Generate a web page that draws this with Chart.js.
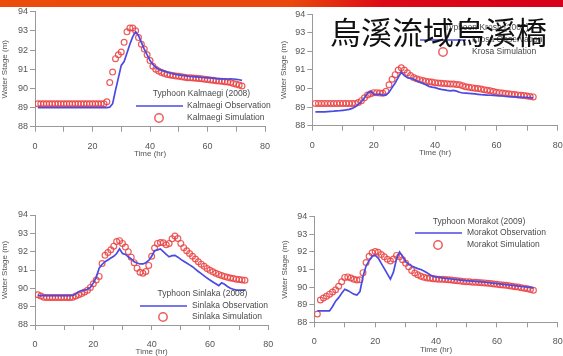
<!DOCTYPE html>
<html>
<head>
<meta charset="utf-8">
<script src="https://cdn.jsdelivr.net/npm/chart.js"></script>
<style>
  body { margin: 0; background: #fff; width: 563px; height: 356px; overflow: hidden; position: relative; }
  .topbar { position: absolute; left: 0; top: 0; width: 563px; height: 7px;
    background: linear-gradient(100deg, #eb4b0b 0%, #e9470c 52%, #dc0a16 68%, #d6001a 100%); }
  canvas { position: absolute; left: 0; top: 0; }
  .bigtitle { position: absolute; left: 330px; top: 15px; font-family: "Noto Sans CJK TC", sans-serif;
    font-size: 31px; line-height: 1; color: #111; white-space: nowrap; z-index: 5; }
</style>
</head>
<body>
<div class="topbar"></div>
<canvas id="c1" width="563" height="356"></canvas>
<canvas id="c2" width="563" height="356"></canvas>
<canvas id="c3" width="563" height="356"></canvas>
<canvas id="c4" width="563" height="356"></canvas>
<div class="bigtitle">烏溪流域烏溪橋</div>

<script>
// hours 1..72
const hours = [1,2,3,4,5,6,7,8,9,10,11,12,13,14,15,16,17,18,19,20,21,22,23,24,25,26,27,28,29,30,
  31,32,33,34,35,36,37,38,39,40,41,42,43,44,45,46,47,48,49,50,51,52,53,54,55,56,57,58,59,60,
  61,62,63,64,65,66,67,68,69,70,71,72];

const typhoons = ["Kalmaegi", "Krosa", "Sinlaka", "Morakot"];
const years = [2008, 2007, 2008, 2009];
const xTickLabels = [0, 20, 40, 60, 80];
const yTickLabels = [88, 89, 90, 91, 92, 93, 94];

// water stage (m)
const kalmaegiObs = [89.0,89.0,89.0,89.0,89.0,89.0,89.0,89.0,89.0,89.0,89.0,89.0,89.0,89.0,89.0,
  89.0,89.0,89.0,89.0,89.0,89.0,89.0,89.0,89.0,89.0,
  89.02,89.2,89.9,90.55,91.2,91.4,91.85,92.3,92.7,92.95,
  92.75,92.4,92.05,91.75,91.45,91.25,91.1,91.0,90.95,90.9,
  90.85,90.8,90.76,90.73,90.7,90.68,90.66,90.64,90.62,90.61,
  90.6,90.59,90.57,90.56,90.55,90.55,90.53,90.51,90.5,90.5,
  90.5,90.49,90.5,90.49,90.47,90.45,90.42];
const kalmaegiSim = [89.2,89.2,89.2,89.2,89.2,89.2,89.2,89.2,89.2,89.2,89.2,89.2,
  89.2,89.2,89.2,89.2,89.2,89.2,89.2,89.2,89.2,89.2,89.2,89.2,
  89.3,90.3,90.85,91.55,91.75,91.9,92.4,92.95,93.15,93.15,93.0,
  92.65,92.3,92.05,91.75,91.45,91.15,91.0,90.9,90.83,90.77,
  90.73,90.7,90.67,90.65,90.63,90.6,90.58,90.56,90.55,90.54,
  90.53,90.52,90.5,90.48,90.46,90.44,90.42,90.4,90.38,90.37,
  90.35,90.33,90.3,90.26,90.22,90.17,90.12];

const krosaObs = [88.75,88.75,88.75,88.75,88.76,88.77,88.78,88.8,88.81,88.83,
  88.85,88.88,88.93,89.02,89.15,89.3,89.5,89.75,89.85,89.7,
  89.68,89.7,89.65,89.65,89.8,90.05,90.3,90.6,90.88,90.7,
  90.58,90.55,90.5,90.42,90.35,90.28,90.2,90.12,90.08,90.05,
  90.0,89.96,89.93,89.9,89.88,89.9,89.86,89.8,89.76,89.75,
  89.74,89.73,89.71,89.69,89.67,89.66,89.65,89.64,89.63,89.62,
  89.61,89.6,89.58,89.57,89.56,89.55,89.54,89.53,89.53,89.52,
  89.51,89.5];
const krosaSim = [89.2,89.2,89.2,89.2,89.2,89.2,89.2,89.2,89.2,89.2,
  89.2,89.2,89.2,89.2,89.25,89.35,89.5,89.65,89.72,89.78,
  89.78,89.76,89.75,89.85,90.2,90.5,90.75,91.0,91.12,91.0,
  90.85,90.7,90.6,90.53,90.48,90.43,90.4,90.37,90.35,90.32,
  90.3,90.28,90.27,90.26,90.25,90.24,90.22,90.2,90.15,90.1,
  90.07,90.05,90.02,90.0,89.97,89.94,89.91,89.88,89.84,89.8,
  89.78,89.76,89.74,89.72,89.7,89.68,89.66,89.64,89.62,89.6,
  89.57,89.55];

const sinlakaObs = [89.62,89.6,89.6,89.6,89.6,89.6,89.6,89.6,89.6,89.6,
  89.6,89.6,89.62,89.7,89.82,89.88,89.9,89.95,90.05,90.3,
  90.6,91.1,91.3,91.45,91.55,91.65,91.75,91.9,92.15,91.9,
  91.85,91.72,91.6,91.45,91.38,91.33,91.33,91.4,91.52,91.75,
  92.05,92.1,92.15,92.0,91.85,91.72,91.78,91.8,91.7,91.58,
  91.48,91.38,91.28,91.18,91.05,90.92,90.8,90.68,90.56,90.45,
  90.35,90.25,90.15,90.3,90.22,90.1,90.0,89.95,89.9,89.9,
  89.9,89.9];
const sinlakaSim = [89.65,89.58,89.52,89.5,89.5,89.5,89.5,89.5,89.5,89.5,
  89.5,89.5,89.52,89.58,89.65,89.72,89.8,89.9,90.05,90.25,
  90.45,90.65,91.35,91.8,91.95,92.1,92.3,92.55,92.6,92.45,
  92.25,92.0,91.7,91.4,91.1,90.88,90.82,90.92,91.25,91.75,
  92.2,92.45,92.5,92.48,92.38,92.45,92.7,92.85,92.72,92.45,
  92.22,92.05,91.9,91.75,91.6,91.45,91.32,91.2,91.08,90.98,
  90.9,90.82,90.76,90.7,90.65,90.6,90.56,90.53,90.5,90.48,
  90.46,90.44];

const morakotObs = [88.65,88.65,88.65,88.65,88.65,88.9,89.2,89.4,89.65,89.88,
  89.8,89.7,89.6,89.55,89.75,90.6,91.2,91.5,91.75,91.8,
  91.65,91.35,91.05,90.75,90.45,90.85,91.6,92.0,91.75,91.45,
  91.3,91.2,91.12,91.05,91.0,90.92,90.82,90.7,90.62,90.58,
  90.55,90.52,90.5,90.48,90.46,90.44,90.42,90.4,90.38,90.36,
  90.35,90.34,90.32,90.31,90.3,90.28,90.26,90.24,90.22,90.2,
  90.18,90.16,90.14,90.12,90.1,90.08,90.06,90.04,90.02,90.0,
  89.98,89.96];
const morakotSim = [88.47,89.27,89.38,89.48,89.6,89.72,89.85,90.05,90.3,90.55,
  90.58,90.52,90.45,90.4,90.42,90.82,91.4,91.75,91.95,92.02,
  91.98,91.85,91.72,91.58,91.48,91.6,91.8,91.72,91.55,91.35,
  91.15,90.95,90.8,90.7,90.62,90.56,90.52,90.5,90.48,90.46,
  90.45,90.44,90.43,90.42,90.4,90.38,90.36,90.34,90.32,90.31,
  90.3,90.28,90.27,90.26,90.25,90.24,90.22,90.2,90.18,90.16,
  90.14,90.12,90.1,90.08,90.05,90.02,90.0,89.97,89.94,89.9,
  89.86,89.82];

const BLUE = "#4a4ae4";
const RED = "rgba(234, 64, 64, 0.85)";
const TEXT = "#555";
const FONT = 'Arial, "Liberation Sans", sans-serif';

// legend drawn inside the plot, like the original figure
const insetLegend = {
  id: "insetLegend",
  afterDatasetsDraw(chart, args, o) {
    const ctx = chart.ctx;
    const ds = chart.data.datasets;
    ctx.save();
    ctx.font = "8.5px " + FONT;
    ctx.fillStyle = "#4a4a4a";
    ctx.textBaseline = "middle";
    ctx.textAlign = "center";
    ctx.fillText(o.title, o.titleX, o.titleY);
    ctx.textAlign = "left";
    ctx.fillText(ds[0].label, o.textX, o.lineY);
    ctx.fillText(ds[1].label, o.textX, o.circleY);
    ctx.strokeStyle = ds[0].borderColor;
    ctx.lineWidth = 1.7;
    ctx.beginPath();
    ctx.moveTo(o.lineX1, o.lineY);
    ctx.lineTo(o.lineX2, o.lineY);
    ctx.stroke();
    ctx.strokeStyle = ds[1].pointBorderColor;
    ctx.lineWidth = 1.5;
    ctx.beginPath();
    ctx.arc(o.circleX, o.circleY, 4.2, 0, Math.PI * 2);
    ctx.stroke();
    ctx.restore();
  }
};

function points(values) {
  return hours.map((h, i) => ({ x: h, y: values[i] }));
}

function makeChart(id, n, obs, sim, box, leg) {
  const yWidth = box.left - box.axisLeft;
  new Chart(document.getElementById(id), {
    type: "line",
    data: {
      datasets: [{
        label: typhoons[n] + " Observation",
        data: points(obs),
        borderColor: BLUE,
        borderWidth: 1.7,
        pointRadius: 0,
        tension: 0
      }, {
        label: typhoons[n] + " Simulation",
        data: points(sim),
        showLine: false,
        pointRadius: 2.9,
        pointBorderWidth: 1.2,
        pointBorderColor: RED,
        pointBackgroundColor: "rgba(255,255,255,0)"
      }]
    },
    options: {
      responsive: false,
      animation: false,
      devicePixelRatio: 1,
      layout: { padding: { left: box.axisLeft, right: 563 - box.right, top: box.top, bottom: 356 - box.bottom - 32 } },
      plugins: {
        legend: { display: false },
        tooltip: { enabled: false },
        insetLegend: Object.assign({ title: "Typhoon " + typhoons[n] + " (" + years[n] + ")" }, leg)
      },
      scales: {
        x: {
          type: "linear", min: 0, max: 80,
          grid: { drawOnChartArea: false, drawTicks: true, tickLength: 5, color: "#999" },
          border: { display: true, color: "#999", width: 1 },
          ticks: {
            stepSize: 10, autoSkip: false, maxRotation: 0, padding: 9,
            color: TEXT, font: { size: 9, family: FONT },
            callback: v => xTickLabels.includes(v) ? String(v) : ""
          },
          title: { display: true, text: "Time (hr)", color: TEXT, font: { size: 8, family: FONT }, padding: 0 },
          afterFit(s) { s.height = 32; s.paddingLeft = 0; s.paddingRight = 0; }
        },
        y: {
          min: 88, max: 94,
          grid: { drawOnChartArea: false, drawTicks: true, tickLength: 5, color: "#999" },
          border: { display: true, color: "#999", width: 1 },
          ticks: {
            stepSize: 1, padding: 2, color: TEXT, font: { size: 9, family: FONT },
            callback: v => yTickLabels.includes(v) ? String(v) : ""
          },
          title: { display: true, text: "Water Stage (m)", color: TEXT, font: { size: 8, family: FONT }, padding: 0 },
          afterFit(s) { s.width = yWidth; s.paddingTop = 0; s.paddingBottom = 0; }
        }
      }
    },
    plugins: [insetLegend]
  });
}

makeChart("c1", 0, kalmaegiObs, kalmaegiSim,
  { axisLeft: 0, left: 35, right: 265, top: 11.7, bottom: 126.7 },
  { titleX: 201.5, titleY: 94, lineX1: 136, lineX2: 183, lineY: 106, circleX: 159, circleY: 118, textX: 187 });
makeChart("c2", 1, krosaObs, krosaSim,
  { axisLeft: 279, left: 312.3, right: 558.3, top: 14.3, bottom: 125.7 },
  { titleX: 486.5, titleY: 28, lineX1: 420, lineX2: 466, lineY: 40, circleX: 443, circleY: 52, textX: 472 });
makeChart("c3", 2, sinlakaObs, sinlakaSim,
  { axisLeft: 0, left: 35, right: 268.3, top: 215, bottom: 325 },
  { titleX: 202.5, titleY: 294, lineX1: 140, lineX2: 187, lineY: 306, circleX: 163, circleY: 317, textX: 192 });
makeChart("c4", 3, morakotObs, morakotSim,
  { axisLeft: 279.5, left: 314.3, right: 561, top: 216.7, bottom: 322.3 },
  { titleX: 479, titleY: 222, lineX1: 415, lineX2: 462, lineY: 233, circleX: 438, circleY: 245, textX: 467 });
</script>
</body>
</html>
